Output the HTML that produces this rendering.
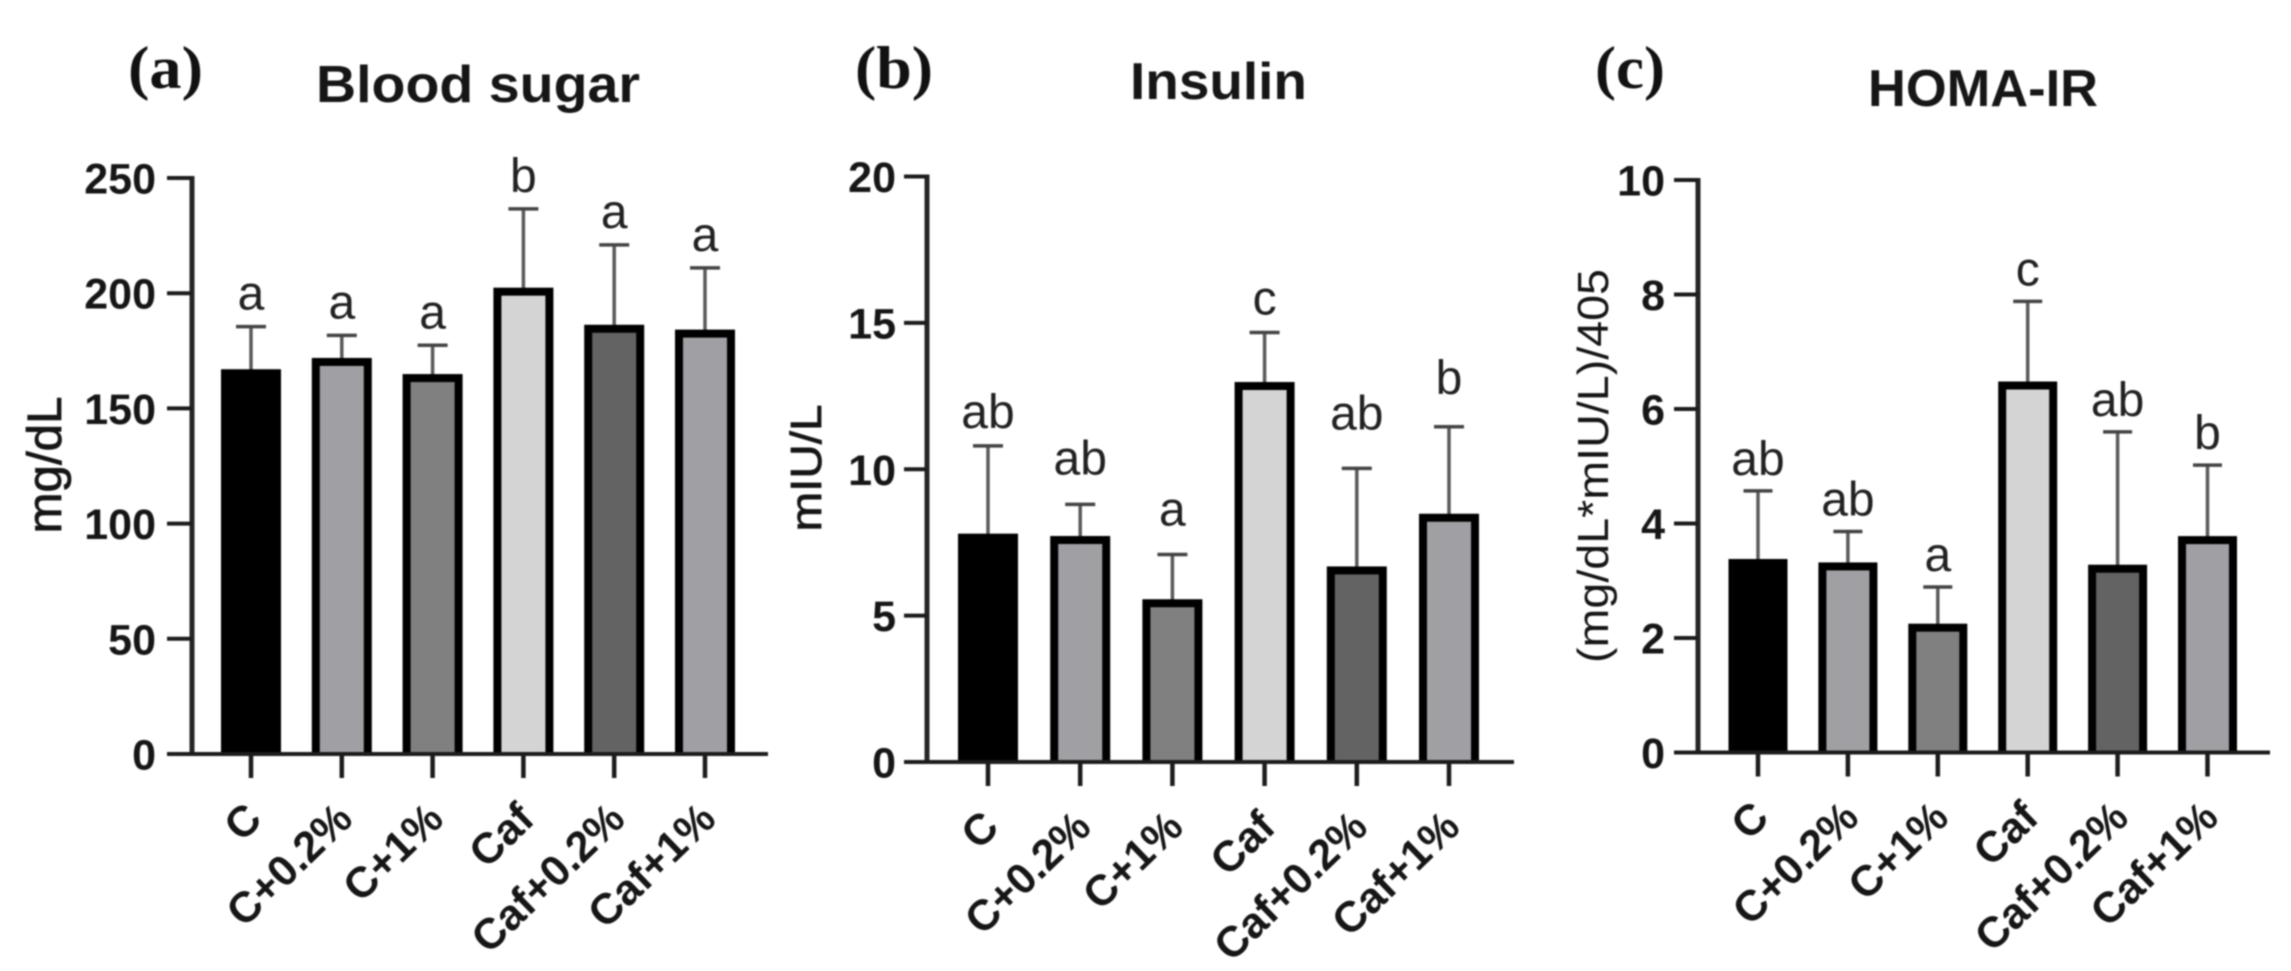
<!DOCTYPE html>
<html lang="en">
<head>
<meta charset="utf-8">
<title>Blood sugar, Insulin and HOMA-IR bar charts</title>
<style>
  html, body { margin: 0; padding: 0; background: #fff; }
  body { width: 2291px; height: 971px; overflow: hidden; }
  svg { display: block; filter: blur(0.9px); }
  text { font-family: "Liberation Sans", Arial, sans-serif; fill: #161616; }
  .panel-tag { font-family: "Liberation Serif", serif; font-weight: 700; font-size: 60px; fill: #111; }
  .title { font-weight: 700; font-size: 52px; }
  .tick { font-weight: 700; font-size: 43px; text-anchor: end; }
  .cat { font-weight: 700; font-size: 43px; text-anchor: end; }
  .sig { font-size: 48px; text-anchor: middle; fill: #222; }
  .ylab { font-size: 44px; text-anchor: middle; stroke: #161616; stroke-width: 0.8px; }
  .ylab-plain { font-size: 44px; text-anchor: middle; }
</style>
</head>
<body>
<svg id="fig" width="2291" height="971" viewBox="0 0 2291 971" xmlns="http://www.w3.org/2000/svg">
  <rect width="2291" height="971" fill="#fff"/>
  <text class="panel-tag" x="128" y="88" textLength="75" lengthAdjust="spacingAndGlyphs">(a)</text>
  <text class="panel-tag" x="855" y="88" textLength="78" lengthAdjust="spacingAndGlyphs">(b)</text>
  <text class="panel-tag" x="1595" y="88" textLength="70" lengthAdjust="spacingAndGlyphs">(c)</text>
  <text class="title" x="316" y="102" textLength="324" lengthAdjust="spacingAndGlyphs">Blood sugar</text>
  <text class="title" x="1130" y="99" textLength="177" lengthAdjust="spacingAndGlyphs">Insulin</text>
  <text class="title" x="1868" y="106" textLength="230" lengthAdjust="spacingAndGlyphs">HOMA-IR</text>
  <text class="ylab" style="font-size:48px" transform="translate(61,465) rotate(-90)" textLength="137" lengthAdjust="spacingAndGlyphs">mg/dL</text>
  <text class="ylab" transform="translate(821,468) rotate(-90)" textLength="127" lengthAdjust="spacingAndGlyphs">mIU/L</text>
  <text class="ylab-plain" transform="translate(1608,466) rotate(-90)" textLength="394" lengthAdjust="spacingAndGlyphs">(mg/dL*mIU/L)/405</text>
  <g id="plots"></g>
</svg>
<script>
// ---- data ----
const categories = ["C", "C+0.2%", "C+1%", "Caf", "Caf+0.2%", "Caf+1%"];

const sugarValues = [167, 171.9, 164.9, 202.4, 186.3, 184.2];
const sugarErrors = [185.5, 181.7, 177.4, 236.6, 221, 211];
const sugarLetters = ["a", "a", "a", "b", "a", "a"];
const sugarTicks = [0, 50, 100, 150, 200, 250];

const insulinValues = [7.8, 7.72, 5.56, 12.98, 6.68, 8.48];
const insulinErrors = [10.8, 8.8, 7.09, 14.67, 10.03, 11.45];
const insulinLetters = ["ab", "ab", "a", "c", "ab", "b"];
const insulinTicks = [0, 5, 10, 15, 20];

const homaValues = [3.38, 3.32, 2.25, 6.48, 3.28, 3.78];
const homaErrors = [4.57, 3.86, 2.89, 7.88, 5.6, 5.02];
const homaLetters = ["ab", "ab", "a", "c", "ab", "b"];
const homaTicks = [0, 2, 4, 6, 8, 10];

// ---- layout ----
const barFills = ["#000000", "#a0a0a4", "#808080", "#d4d4d4", "#636363", "#a0a0a4"];
const panels = [
  { key: "blood-sugar", values: sugarValues, errors: sugarErrors, letters: sugarLetters, ticks: sugarTicks,
    axisX: 192, top: 178, bottom: 754, right: 768, tickLeft: 167, labelEnd: 156, first: 251, step: 90.8, barW: 60, capW: 30,
    gapFor: function () { return 17; } },
  { key: "insulin", values: insulinValues, errors: insulinErrors, letters: insulinLetters, ticks: insulinTicks,
    axisX: 927, top: 176.5, bottom: 762, right: 1514, tickLeft: 904, labelEnd: 896, first: 988, step: 92.2, barW: 60, capW: 30,
    gapFor: function (i) { return [18, 30, 29, 18, 39, 33][i]; } },
  { key: "homa-ir", values: homaValues, errors: homaErrors, letters: homaLetters, ticks: homaTicks,
    axisX: 1698, top: 180, bottom: 752.5, right: 2270, tickLeft: 1674, labelEnd: 1665, first: 1758, step: 89.9, barW: 59, capW: 29,
    gapFor: function () { return 16; } }
];

const SVG_NS = "http://www.w3.org/2000/svg";
const root = document.getElementById("plots");

function make(tag, attrs, parent, content) {
  const node = document.createElementNS(SVG_NS, tag);
  Object.keys(attrs).forEach(function (k) { node.setAttribute(k, attrs[k]); });
  if (content !== undefined) node.textContent = content;
  parent.appendChild(node);
  return node;
}

panels.forEach(function (p) {
  const maxTick = p.ticks[p.ticks.length - 1];
  const yScale = function (v) { return p.bottom - (v / maxTick) * (p.bottom - p.top); };
  const xScale = function (i) { return p.first + i * p.step; };

  const g = make("g", {}, root);
  
  

  // error bars (behind the bars)
  p.errors.forEach(function (e, i) {
    const cx = xScale(i), ey = yScale(e), vy = yScale(p.values[i]);
    const stem = make("line", { x1: cx, x2: cx, y1: ey, y2: vy + 4, stroke: "#5a5a5a", "stroke-width": 3.5 }, g);
    
    
    const cap = make("line", { x1: cx - p.capW / 2, x2: cx + p.capW / 2, y1: ey, y2: ey, stroke: "#444", "stroke-width": 3.5 }, g);
    
    
  });

  // bars: black outer block with the fill inset on top and sides, fill runs down to the axis
  p.values.forEach(function (v, i) {
    const cx = xScale(i), sw = 8, vy = yScale(v);
    const bar = make("rect", { x: cx - p.barW / 2, y: vy, width: p.barW, height: Math.max(0, p.bottom - vy), fill: "#000" }, g);
    
    
    const inner = make("rect", { x: cx - p.barW / 2 + sw, y: vy + sw, width: p.barW - 2 * sw, height: Math.max(0, p.bottom - vy - sw), fill: barFills[i] }, g);
    
    
  });

  // significance letters
  p.letters.forEach(function (s, i) {
    const t = make("text", { class: "sig", x: xScale(i), y: yScale(p.errors[i]) - p.gapFor(i) }, g, s);
    
    
  });

  // y axis
  const yAxis = make("line", { x1: p.axisX, x2: p.axisX, y1: p.top - 2, y2: p.bottom + 2, stroke: "#262626", "stroke-width": 5 }, g);
  
  
  p.ticks.forEach(function (tv) {
    const y = yScale(tv);
    const tk = make("line", { x1: p.tickLeft, x2: p.axisX, y1: y, y2: y, stroke: "#1c1c1c", "stroke-width": 4 }, g);
    
    
    const lab = make("text", { class: "tick", x: p.labelEnd, y: y + 15.5 }, g, String(tv));
    
    
  });

  // x axis
  const xAxis = make("line", { x1: p.tickLeft, x2: p.right, y1: p.bottom, y2: p.bottom, stroke: "#1c1c1c", "stroke-width": 4 }, g);
  
  
  categories.forEach(function (c, i) {
    const cx = xScale(i);
    const tk = make("line", { x1: cx, x2: cx, y1: p.bottom, y2: p.bottom + 24, stroke: "#1c1c1c", "stroke-width": 4.5 }, g);
    
    
    const lab = make("text", { class: "cat", transform: "translate(" + (cx + 13) + "," + (p.bottom + 67.5) + ") rotate(-44)" }, g, c);
    
    
  });
});
</script>
</body>
</html>
